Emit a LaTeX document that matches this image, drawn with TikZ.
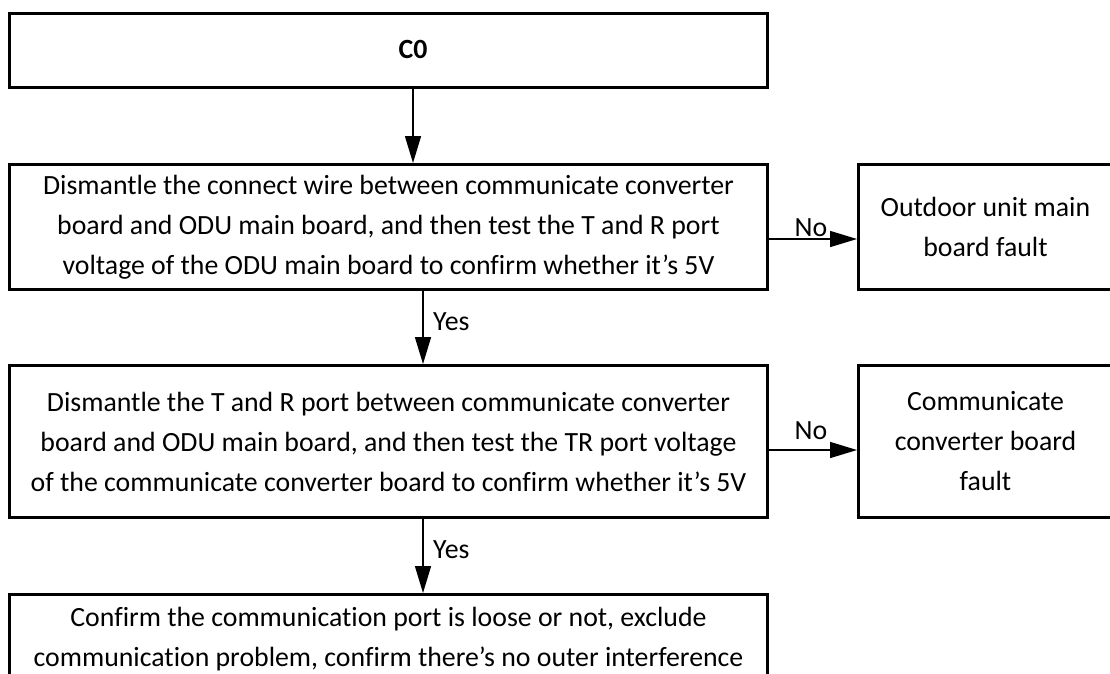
\documentclass[tikz,border=0pt]{standalone}
\usepackage{fontspec}
\setmainfont{Carlito}[Ligatures=NoCommon]
\usetikzlibrary{arrows.meta}
\begin{document}
\begin{tikzpicture}[x=1pt,y=-1pt,
  box/.style={draw=black,line width=3pt,rectangle,inner sep=0pt,align=center,
    font=\fontsize{27.8}{40}\selectfont,anchor=north west},
  lbl/.style={inner sep=0pt,font=\fontsize{27.8}{40}\selectfont},
  arr/.style={line width=1.5pt,-{Triangle[length=27pt,width=16pt]}}]
\useasboundingbox (0,0) rectangle (1110,673);
\node[box,minimum width=758pt,minimum height=74pt] (c0) at (8,12) {};
\node[lbl] (c0t) at (413,49) {\textbf{C0}};
\node[box,minimum width=758pt,minimum height=125pt] (b2) at (8,163)
  {Dismantle the connect wire between communicate converter\\
   board and ODU main board, and then test the T and R port\\
   voltage of the ODU main board to confirm whether it’s 5V};
\node[box,minimum width=758pt,minimum height=152pt] (b3) at (8,364)
  {Dismantle the T and R port between communicate converter\\
   board and ODU main board, and then test the TR port voltage\\
   of the communicate converter board to confirm whether it’s 5V};
\node[box,minimum width=758pt,minimum height=90pt] (b4) at (8,593)
  {Confirm the communication port is loose or not, exclude\\
   communication problem, confirm there’s no outer interference};
\node[box,minimum width=254pt,minimum height=125pt] (r1) at (857,163)
  {Outdoor unit main\\board fault};
\node[box,minimum width=254pt,minimum height=152pt] (r2) at (857,364)
  {Communicate\\converter board\\fault};
\coordinate (xa) at (413,0);
\coordinate (xb) at (423,0);
\coordinate (ya) at (0,239);
\coordinate (yb) at (0,450);
\draw[arr] (xa |- c0.south) -- (xa |- b2.north);
\draw[arr] (xb |- b2.south) -- (xb |- b3.north);
\draw[arr] (xb |- b3.south) -- (xb |- b4.north);
\draw[arr] (b2.east |- ya) -- (r1.west |- ya);
\draw[arr] (b3.east |- yb) -- (r2.west |- yb);
\node[lbl,anchor=west] (yes1) at (433,322) {Yes};
\node[lbl,anchor=west] (yes2) at (433,550) {Yes};
\node[lbl] (no1) at (811,228) {No};
\node[lbl] (no2) at (811,431) {No};
\end{tikzpicture}
\end{document}
